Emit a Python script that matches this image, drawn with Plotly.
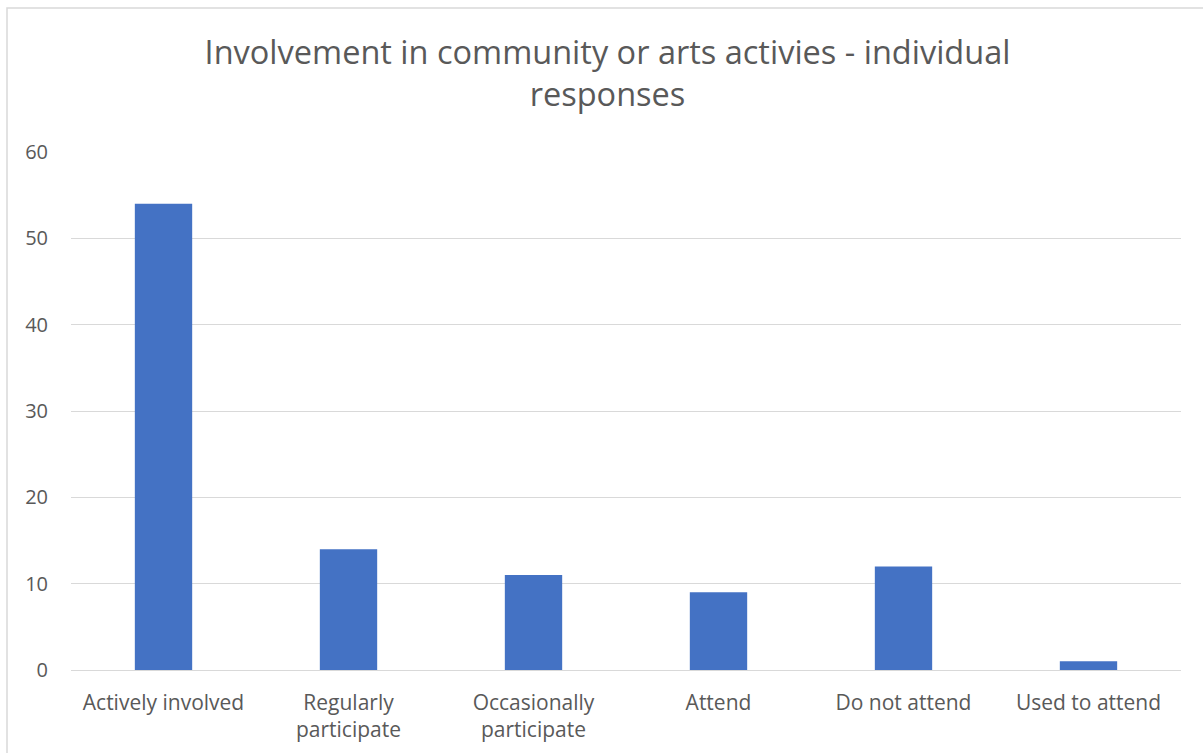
import plotly.graph_objects as go

categories = ["Actively involved", "Regularly<br>participate", "Occasionally<br>participate",
              "Attend", "Do not attend", "Used to attend"]
responses = [54, 14, 11, 9, 12, 1]
y_ticks = [0, 10, 20, 30, 40, 50, 60]

W, H = 1203, 753
ml, mr, mt, mb = 71, 22, 152, 83
pw, ph = W - ml - mr, H - mt - mb

fig = go.Figure(go.Bar(x=categories, y=responses, marker=dict(color="#4472C4", line=dict(width=0))))

txt = "#595959"
fig.update_layout(
    width=W, height=H,
    margin=dict(l=ml, r=mr, t=mt, b=mb),
    paper_bgcolor="white", plot_bgcolor="white",
    bargap=0.69,
    showlegend=False,
    font=dict(family="Open Sans", color=txt),
    title=dict(text="Involvement in community or arts activies - individual<br>responses",
               x=0.505, xanchor="center", y=1 - 64 / H, yanchor="top", automargin=False,
               font=dict(size=32.5, color=txt, family="Open Sans")),
    xaxis=dict(showgrid=False, showline=False, ticks="", tickfont=dict(size=21, color=txt),
               ticklabelstandoff=18, automargin=False),
    yaxis=dict(range=[0, 60], tickvals=y_ticks, showgrid=True, gridcolor="#d9d9d9", gridwidth=1.3,
               zeroline=True, zerolinecolor="#d9d9d9", zerolinewidth=1.3, showline=False,
               tickfont=dict(size=20, color=txt), ticks="", ticklabelstandoff=22, automargin=False),
    shapes=[dict(type="rect", xref="paper", yref="paper",
                 x0=(7 - ml) / pw, x1=(W + 20 - ml) / pw,
                 y0=-(H + 20 - mt - ph) / ph, y1=(H - mb - 8) / ph,
                 line=dict(color="#d9d9d9", width=1.5), fillcolor="rgba(0,0,0,0)", layer="below")],
)

fig.write_html("out.html")
